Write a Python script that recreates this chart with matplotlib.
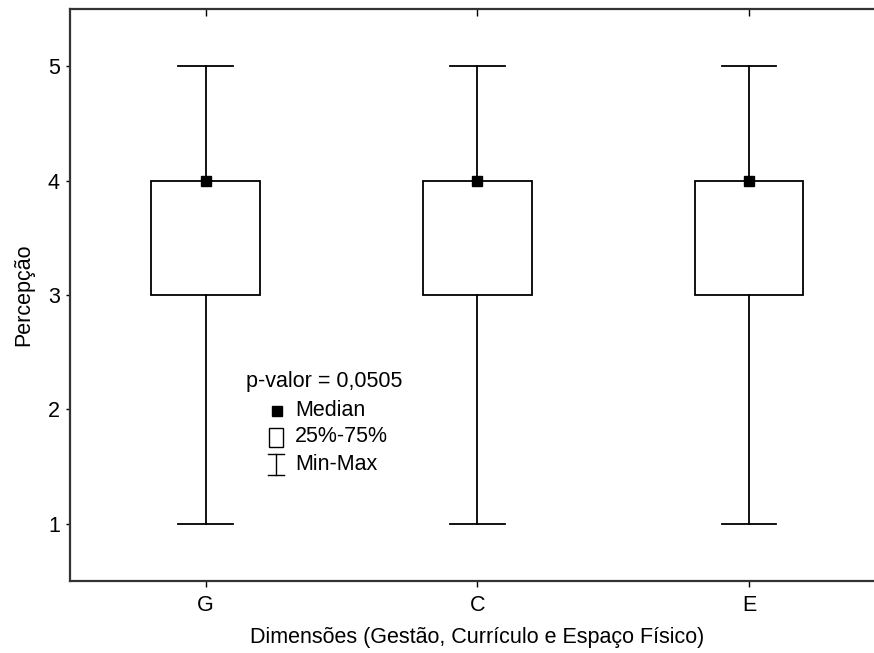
import matplotlib
matplotlib.use('Agg')
import matplotlib.pyplot as plt
from matplotlib.lines import Line2D
from matplotlib.patches import Rectangle

# box plot summary per dimension
categories = ['G', 'C', 'E']
mins = [1, 1, 1]
q1s = [3, 3, 3]
medians = [4, 4, 4]
q3s = [4, 4, 4]
maxs = [5, 5, 5]
p_text = 'p-valor = 0,0505'
y_ticks = [1, 2, 3, 4, 5]

plt.rcParams['font.family'] = ['Liberation Sans', 'DejaVu Sans']
plt.rcParams['font.size'] = 15.5

W, H = 874, 653
fig = plt.figure(figsize=(W / 100, H / 100), dpi=100)

def fx(px):
  return px / W

def fy(py):
  return 1 - py / H

# axes box in pixels: right spine is cut off by the image edge
left, top, bottom, right = 69.7, 9, 580.7, 885
ax = fig.add_axes([fx(left), fy(bottom), (right - left) / W, (bottom - top) / H])

pos = list(range(len(categories)))
stats = []
for i, c in enumerate(categories):
  stats.append({'label': c, 'whislo': mins[i], 'q1': q1s[i], 'med': medians[i],
                'q3': q3s[i], 'whishi': maxs[i], 'fliers': []})

line_kw = dict(color='black', linewidth=1.3)
ax.bxp(stats, positions=pos, widths=0.4, showfliers=False, patch_artist=True,
       boxprops=dict(facecolor='white', edgecolor='black', linewidth=1.3),
       whiskerprops=line_kw, capprops=line_kw, capwidths=0.2,
       medianprops=dict(linewidth=0))
ax.plot(pos, medians, 's', color='black', markersize=7, zorder=5)

ax.set_xlim(-0.5, len(categories) - 0.5)
ax.set_ylim(0.5, 5.5)
ax.set_yticks(y_ticks)
ax.set_xticks(pos)
ax.set_xticklabels(categories)

for s in ['left', 'bottom', 'top', 'right']:
  ax.spines[s].set_linewidth(1.6)
  ax.spines[s].set_color('#333333')

ax.tick_params(axis='y', direction='out', length=3, width=1, pad=4, left=True, right=False)
ax.tick_params(axis='x', direction='out', length=4, width=1, pad=6, top=False)

# top ticks point inward
sec = ax.secondary_xaxis('top')
sec.set_xticks(pos)
sec.set_xticklabels([])
sec.tick_params(direction='in', length=5, width=1)
sec.spines['top'].set_visible(False)

ax.set_xlabel('Dimensões (Gestão, Currículo e Espaço Físico)', labelpad=8)
ax.set_ylabel('Percepção', labelpad=10)

# legend drawn by hand
fig.text(fx(246), fy(382), p_text, ha='left', va='center')
fig.text(fx(295), fy(410), 'Median', ha='left', va='center')
fig.text(fx(295), fy(437), '25%-75%', ha='left', va='center')
fig.text(fx(295), fy(464), 'Min-Max', ha='left', va='center')
fig.add_artist(Line2D([fx(276.5)], [fy(410.5)], marker='s', color='black',
                      markersize=7, transform=fig.transFigure))
fig.add_artist(Rectangle((fx(269), fy(447)), fx(14), 19 / H, facecolor='white',
                         edgecolor='black', linewidth=1.0, transform=fig.transFigure))
fig.add_artist(Line2D([fx(276), fx(276)], [fy(454), fy(475)], color='black',
                      linewidth=1.0, transform=fig.transFigure))
fig.add_artist(Line2D([fx(268), fx(284)], [fy(454), fy(454)], color='black',
                      linewidth=1.0, transform=fig.transFigure))
fig.add_artist(Line2D([fx(268), fx(284)], [fy(475), fy(475)], color='black',
                      linewidth=1.0, transform=fig.transFigure))

fig.savefig('out.png', dpi=100)
